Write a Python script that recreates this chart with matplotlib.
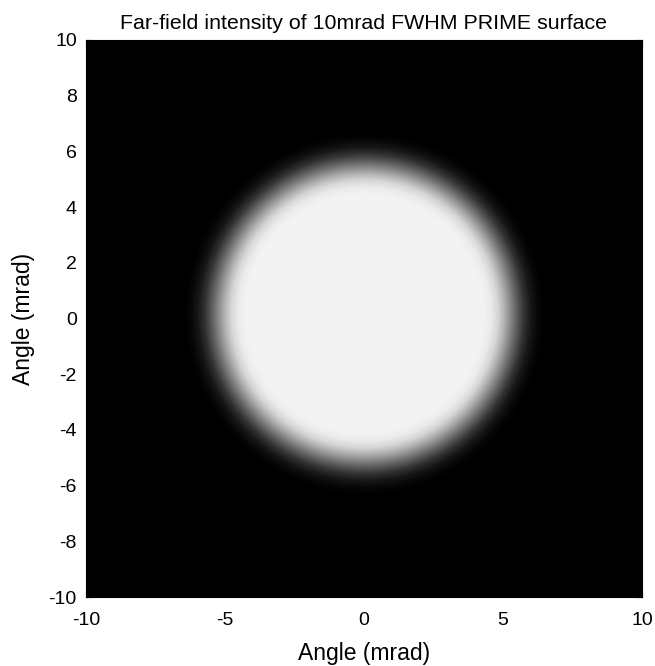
import numpy as np
import matplotlib.pyplot as plt

plt.rcParams['font.family'] = ['Liberation Sans', 'DejaVu Sans']
plt.rcParams['axes.unicode_minus'] = False

# radial intensity profile (mrad -> normalised intensity)
profile_r = [0.0, 4.3, 4.55, 4.8, 5.0, 5.2, 5.35, 5.55, 5.75, 6.0, 6.25, 6.5, 15.0]
profile_i = [0.95, 0.95, 0.92, 0.84, 0.72, 0.58, 0.47, 0.33, 0.2, 0.09, 0.03, 0.0, 0.0]
center_x, center_y = 0.0, 0.15
yticks = [-10, -8, -6, -4, -2, 0, 2, 4, 6, 8, 10]
xticks = [-10, -5, 0, 5, 10]

n = 400
ang = np.linspace(-10, 10, n)
X, Y = np.meshgrid(ang, ang)
R = np.hypot(X - center_x, Y - center_y)
img = np.interp(R, profile_r, profile_i)

fig = plt.figure(figsize=(6.55, 6.66), dpi=100)
ax = fig.add_axes([0.131, 0.1036, 0.849, 0.8364])
ax.imshow(img, cmap='gray', vmin=0, vmax=1, origin='lower',
          extent=[-10, 10, -10, 10], interpolation='bilinear', aspect='auto')
ax.set_xlim(-10, 10)
ax.set_ylim(-10, 10)
ax.set_xticks(xticks)
ax.set_yticks(yticks)
ax.tick_params(direction='in', top=True, right=True, labelsize=14, length=4)
ax.tick_params(axis='x', pad=11)
ax.tick_params(axis='y', pad=6.5)
ax.set_xlabel('Angle (mrad)', fontsize=16.5, labelpad=9)
ax.set_ylabel('Angle (mrad)', fontsize=16.5, labelpad=10)
ax.set_title('Far-field intensity of 10mrad FWHM PRIME surface', fontsize=15.4, pad=8)

fig.savefig('out.png', dpi=100)
